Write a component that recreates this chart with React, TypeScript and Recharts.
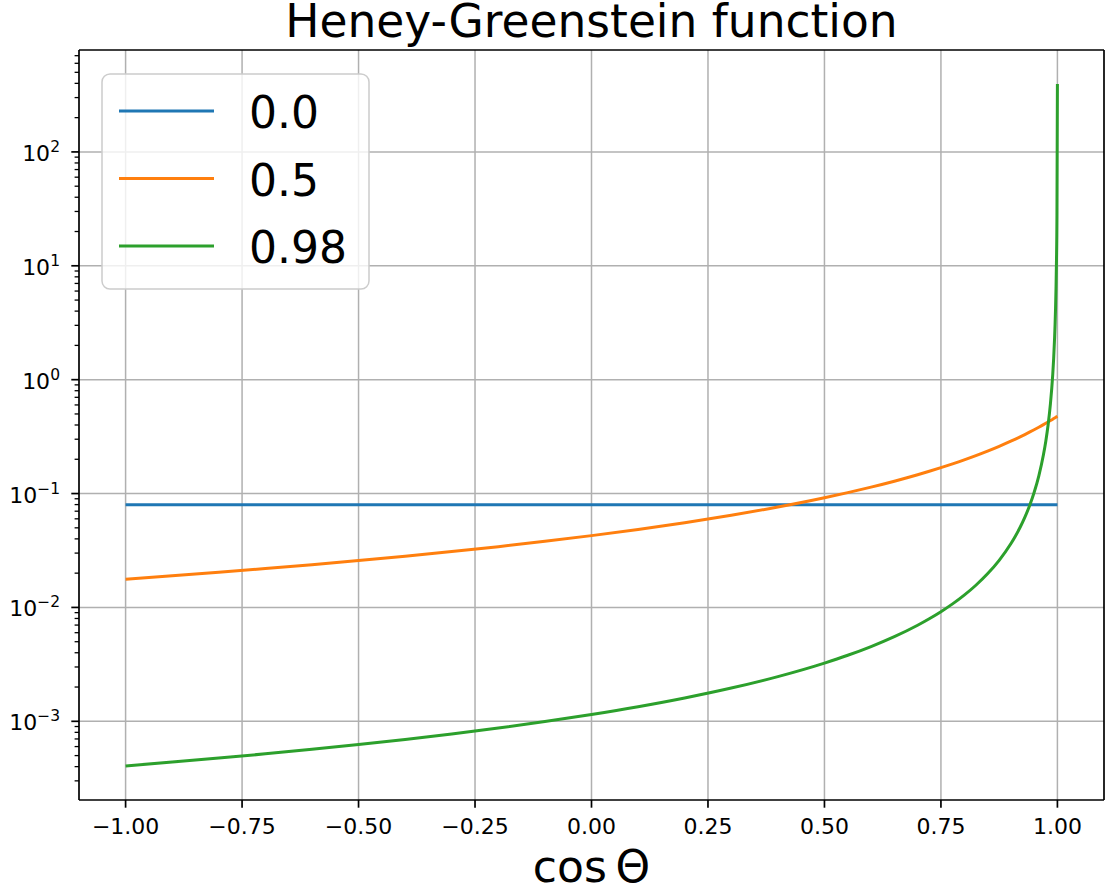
import React from 'react';
import { LineChart, Line, XAxis, YAxis, CartesianGrid, Legend, ReferenceLine } from 'recharts';

// cos(theta) sample points
const xValues = [
  -1, -0.9, -0.8, -0.7, -0.6, -0.5, -0.4, -0.3, -0.2, -0.1, 0,
  0.1, 0.2, 0.3, 0.4, 0.5,
  0.55, 0.6, 0.65, 0.7, 0.725, 0.75, 0.775, 0.8, 0.825, 0.85, 0.875, 0.9,
  0.91, 0.92, 0.93, 0.94, 0.95, 0.96, 0.97, 0.975, 0.98, 0.985, 0.99,
  0.992, 0.994, 0.995, 0.996, 0.997, 0.998, 0.999, 1.0,
];

// g = 0.0
const g00Values = [
  0.07958, 0.07958, 0.07958, 0.07958, 0.07958, 0.07958, 0.07958, 0.07958, 0.07958, 0.07958, 0.07958,
  0.07958, 0.07958, 0.07958, 0.07958, 0.07958,
  0.07958, 0.07958, 0.07958, 0.07958, 0.07958, 0.07958, 0.07958, 0.07958, 0.07958, 0.07958, 0.07958, 0.07958,
  0.07958, 0.07958, 0.07958, 0.07958, 0.07958, 0.07958, 0.07958, 0.07958, 0.07958, 0.07958, 0.07958,
  0.07958, 0.07958, 0.07958, 0.07958, 0.07958, 0.07958, 0.07958, 0.07958,
];

// g = 0.5
const g05Values = [
  0.01768, 0.01893, 0.02033, 0.02192, 0.02372, 0.02578, 0.02816, 0.03093, 0.03418, 0.03805, 0.04271,
  0.04839, 0.05547, 0.06445, 0.07615, 0.09189,
  0.1019, 0.1139, 0.1284, 0.1463, 0.1569, 0.1688, 0.1823, 0.1977, 0.2154, 0.2359, 0.2599, 0.2882,
  0.301, 0.3148, 0.3297, 0.3458, 0.3632, 0.3821, 0.4027, 0.4138, 0.4254, 0.4375, 0.4501,
  0.4554, 0.4607, 0.4634, 0.4662, 0.469, 0.4718, 0.4746, 0.4775,
];

// g = 0.98
const g098Values = [
  0.000406, 0.0004384, 0.0004754, 0.000518, 0.0005673, 0.0006249, 0.0006931, 0.0007745, 0.0008733, 0.000995, 0.001148,
  0.001344, 0.001604, 0.00196, 0.00247, 0.003246,
  0.003801, 0.004536, 0.005541, 0.006981, 0.007954, 0.009175, 0.01074, 0.01282, 0.01566, 0.01973, 0.02592, 0.0362,
  0.04239, 0.05055, 0.06173, 0.07774, 0.1021, 0.1425, 0.2188, 0.287, 0.3999, 0.6125, 1.114,
  1.545, 2.35, 3.059, 4.213, 6.332, 11.1, 27.48, 393.9,
];

const seriesNames = ['0.0', '0.5', '0.98'];
const seriesColors = ['#1f77b4', '#ff7f0e', '#2ca02c'];

const xTicks = [-1, -0.75, -0.5, -0.25, 0, 0.25, 0.5, 0.75, 1];
const xTickLabels = ['\u22121.00', '\u22120.75', '\u22120.50', '\u22120.25', '0.00', '0.25', '0.50', '0.75', '1.00'];
const xDomain = [-1.1, 1.1];

const yMajorTicks = [1e-3, 1e-2, 1e-1, 1, 10, 100];
const yMajorExponents = ['\u22123', '\u22122', '\u22121', '0', '1', '2'];
const yMinorTicks = [
  3e-4, 4e-4, 5e-4, 6e-4, 7e-4, 8e-4, 9e-4,
  2e-3, 3e-3, 4e-3, 5e-3, 6e-3, 7e-3, 8e-3, 9e-3,
  2e-2, 3e-2, 4e-2, 5e-2, 6e-2, 7e-2, 8e-2, 9e-2,
  0.2, 0.3, 0.4, 0.5, 0.6, 0.7, 0.8, 0.9,
  2, 3, 4, 5, 6, 7, 8, 9,
  20, 30, 40, 50, 60, 70, 80, 90,
  200, 300, 400, 500, 600, 700,
];
const yDomain = [2.037e-4, 785.2];

const titleText = 'Heney-Greenstein function';
const xLabelText = 'cos\u2009\u0398';

const data = xValues.map((x, i) => ({
  x,
  g00: g00Values[i],
  g05: g05Values[i],
  g098: g098Values[i],
}));

const FONT = "'DejaVu Sans', sans-serif";

const YTick = (props: any) => {
  const { x, y, payload } = props;
  const v = payload.value;
  const idx = yMajorTicks.findIndex((t) => Math.abs(Math.log10(t) - Math.log10(v)) < 1e-6);
  if (idx >= 0) {
    return (
      <g>
        <line x1={x - 7.7} x2={x} y1={y} y2={y} stroke="#000" strokeWidth={1.7} />
        <text x={x - 19} y={y + 9} textAnchor="end" fontSize={22} fontFamily={FONT} fill="#000">
          <tspan>10</tspan>
          <tspan dy={-9} fontSize={15.5}>{yMajorExponents[idx]}</tspan>
        </text>
      </g>
    );
  }
  return <line x1={x - 4.4} x2={x} y1={y} y2={y} stroke="#000" strokeWidth={1.3} />;
};

const renderLegend = (props: any) => {
  const { payload } = props;
  return (
    <svg width={272} height={220} style={{ display: 'block', overflow: 'visible' }}>
      <rect x={1} y={1} width={267} height={215} rx={8} ry={8} fill="#ffffff" fillOpacity={0.8} stroke="#cccccc" strokeWidth={1.5} />
      {(payload || []).map((p: any, i: number) => (
        <g key={i}>
          <line x1={18} x2={113} y1={38 + i * 67.5} y2={38 + i * 67.5} stroke={p.color} strokeWidth={3} />
          <text x={148} y={38 + i * 67.5 + 17} fontSize={44} fontFamily={FONT} fill="#000">
            {p.value}
          </text>
        </g>
      ))}
    </svg>
  );
};

export default function App() {
  return (
    <div style={{ position: 'absolute', left: 0, top: 0, width: 1109, height: 890, background: '#fff' }}>
      <LineChart
        width={1109}
        height={890}
        data={data}
        margin={{ top: 50, right: 5, bottom: 60, left: 19 }}
      >
        <CartesianGrid
          stroke="#b0b0b0"
          strokeWidth={1.5}
          horizontalValues={yMajorTicks}
          verticalValues={xTicks}
        />
        <XAxis
          dataKey="x"
          type="number"
          domain={xDomain}
          ticks={xTicks}
          interval={0}
          height={30}
          allowDataOverflow
          tickFormatter={(v: number) => xTickLabels[xTicks.indexOf(v)] ?? String(v)}
          tick={{ fontSize: 22, fill: '#000', fontFamily: FONT }}
          tickSize={7.7}
          tickMargin={11}
          tickLine={{ stroke: '#000', strokeWidth: 1.7 }}
          axisLine={{ stroke: '#000', strokeWidth: 1.7 }}
        />
        <YAxis
          scale="log"
          type="number"
          domain={yDomain}
          allowDataOverflow
          ticks={[...yMajorTicks, ...yMinorTicks]}
          interval={0}
          width={60}
          tickSize={0}
          tickMargin={0}
          tickLine={false}
          tick={<YTick />}
          axisLine={{ stroke: '#000', strokeWidth: 1.7 }}
        />
        <Legend
          layout="vertical"
          align="center"
          verticalAlign="middle"
          content={renderLegend}
          wrapperStyle={{ position: 'absolute', left: 101, top: 73, width: 272, height: 220 }}
        />
        <Line type="monotone" dataKey="g00" name={seriesNames[0]} stroke={seriesColors[0]} strokeWidth={3} dot={false} isAnimationActive={false} />
        <Line type="monotone" dataKey="g05" name={seriesNames[1]} stroke={seriesColors[1]} strokeWidth={3} dot={false} isAnimationActive={false} />
        <Line type="monotone" dataKey="g098" name={seriesNames[2]} stroke={seriesColors[2]} strokeWidth={3} dot={false} isAnimationActive={false} />
        <ReferenceLine y={yDomain[1]} stroke="#000" strokeWidth={1.7} ifOverflow="extendDomain" />
        <ReferenceLine x={xDomain[1]} stroke="#000" strokeWidth={1.7} ifOverflow="extendDomain" />
      </LineChart>
      <svg
        width={1109}
        height={890}
        style={{ position: 'absolute', left: 0, top: 0, pointerEvents: 'none' }}
      >
        <text x={591.5} y={37} textAnchor="middle" fontSize={45.5} fontFamily={FONT} fill="#000">
          {titleText}
        </text>
        <text x={591.5} y={882} textAnchor="middle" fontSize={44} fontFamily={FONT} fill="#000">
          {xLabelText}
        </text>
      </svg>
    </div>
  );
}
